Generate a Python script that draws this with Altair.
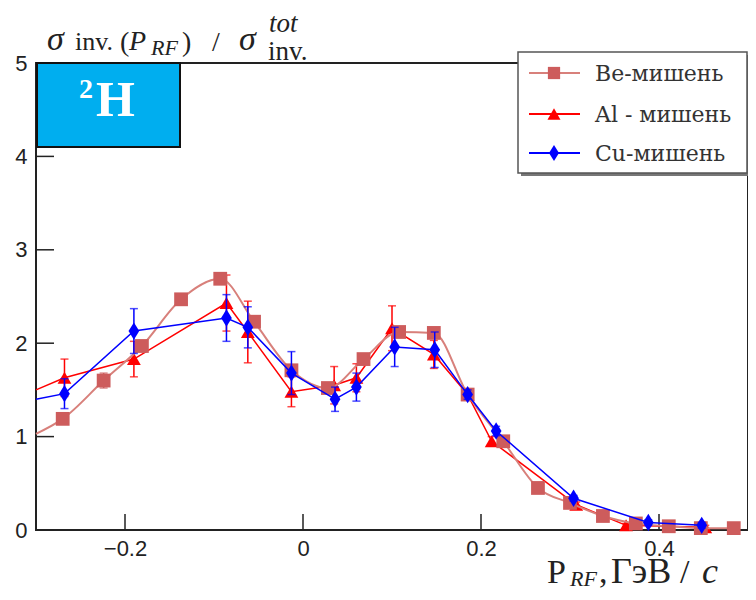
import altair as alt
import pandas as pd

# ---------------- data ----------------
x_ticks = [-0.2, 0.0, 0.2, 0.4]
y_ticks = [0, 1, 2, 3, 4, 5]

be_x = [-0.270, -0.224, -0.181, -0.137, -0.093, -0.055, -0.013, 0.028, 0.068, 0.108,
        0.147, 0.185, 0.225, 0.264, 0.300, 0.337, 0.374, 0.411, 0.447, 0.484]
be_y = [1.19, 1.60, 1.97, 2.47, 2.69, 2.23, 1.71, 1.52, 1.83, 2.12,
        2.11, 1.45, 0.95, 0.45, 0.29, 0.15, 0.07, 0.04, 0.02, 0.02]
be_err = [0.05, 0.08, 0.06, 0.05, 0.05, 0.05, 0.05, 0.05, 0.05, 0.05,
          0.05, 0.04, 0.04, 0.03, 0.02, 0.02, 0.01, 0.01, 0.01, 0.01]

al_x = [-0.268, -0.190, -0.086, -0.062, -0.013, 0.035, 0.060, 0.100, 0.147, 0.185,
        0.212, 0.307, 0.363, 0.452]
al_y = [1.63, 1.83, 2.43, 2.12, 1.48, 1.55, 1.63, 2.16, 1.88, 1.45,
        0.95, 0.27, 0.05, 0.03]
al_err = [0.20, 0.19, 0.30, 0.33, 0.16, 0.20, 0.15, 0.24, 0.15, 0.06,
          0.05, 0.03, 0.02, 0.02]

cu_x = [-0.268, -0.190, -0.086, -0.062, -0.013, 0.036, 0.060, 0.103, 0.148, 0.185,
        0.217, 0.304, 0.388, 0.448]
cu_y = [1.46, 2.13, 2.27, 2.17, 1.68, 1.40, 1.53, 1.96, 1.93, 1.45,
        1.06, 0.34, 0.08, 0.05]
cu_err = [0.16, 0.24, 0.25, 0.22, 0.23, 0.13, 0.15, 0.21, 0.19, 0.05,
          0.05, 0.03, 0.03, 0.03]

# value of each curve where it leaves the left edge of the frame
edge_x = -0.3
be_edge, al_edge, cu_edge = 1.03, 1.50, 1.40

legend_labels = ["Be-мишень", "Al - мишень", "Cu-мишень"]

# ---------------- styling ----------------
W, H = 712, 467
OX, OY = 36, 63          # page position of the plot origin
R = OX + W               # page x of the right frame edge
BE_C, BE_LINE = "#cd5c5c", "#d8807b"
AL_C, CU_C = "#ff0000", "#0000ff"
SERIF = "Liberation Serif"
LSERIF = "DejaVu Serif"
DIAMOND = "M0,-1L0.62,0L0,1L-0.62,0Z"

xs = alt.Scale(domain=[-0.3, 0.5], nice=False, zero=False)
ys = alt.Scale(domain=[0, 5], nice=False, zero=False)

one = pd.DataFrame({"k": [0]})


def sdf(xv, yv, ev):
    d = pd.DataFrame({"x": xv, "y": yv, "e": ev})
    d["lo"] = d["y"] - d["e"]
    d["hi"] = d["y"] + d["e"]
    return d


def ldf(xv, yv, edge):
    return pd.DataFrame({"x": [edge_x] + list(xv), "y": [edge] + list(yv)})


def series(xv, yv, ev, edge, color, lcolor, shape, size, lw, interp):
    d = sdf(xv, yv, ev)
    X = alt.X("x:Q", scale=xs)
    line = alt.Chart(ldf(xv, yv, edge)).mark_line(
        color=lcolor, strokeWidth=lw, interpolate=interp).encode(
        x=X, y=alt.Y("y:Q", scale=ys))
    bars = alt.Chart(d).mark_rule(color=color, strokeWidth=1.5).encode(
        x=X, y=alt.Y("lo:Q", scale=ys), y2="hi:Q")
    cap_lo = alt.Chart(d).mark_tick(color=color, orient="horizontal", size=8, thickness=1.5).encode(
        x=X, y=alt.Y("lo:Q", scale=ys))
    cap_hi = alt.Chart(d).mark_tick(color=color, orient="horizontal", size=8, thickness=1.5).encode(
        x=X, y=alt.Y("hi:Q", scale=ys))
    pts = alt.Chart(d).mark_point(shape=shape, filled=True, fill=color, size=size, opacity=1,
                                  strokeWidth=0).encode(x=X, y=alt.Y("y:Q", scale=ys))
    return [line, bars, cap_lo, cap_hi, pts]


def txt(s, px, py, size, font=SERIF, style="normal", weight="normal", color="#222",
        align="left", baseline="alphabetic"):
    return alt.Chart(one).mark_text(
        text=s, font=font, fontSize=size, fontStyle=style, fontWeight=weight,
        color=color, align=align, baseline=baseline).encode(
        x=alt.value(px - OX), y=alt.value(py - OY))


def rect(x1, y1, x2, y2, fill, stroke=None, sw=0):
    kw = dict(fill=fill)
    if stroke:
        kw.update(stroke=stroke, strokeWidth=sw)
    return alt.Chart(one).mark_rect(**kw).encode(
        x=alt.value(x1 - OX), x2=alt.value(x2 - OX),
        y=alt.value(y1 - OY), y2=alt.value(y2 - OY))


# axes (labels only) + inward ticks
base = alt.Chart(pd.DataFrame({"x": x_ticks})).mark_rule(color="#222", strokeWidth=1.5).encode(
    x=alt.X("x:Q", scale=xs, axis=alt.Axis(
        values=x_ticks, labelExpr="datum.value == 0 ? '0' : format(datum.value, '.1f')",
        labelPadding=8, title=None)),
    y=alt.value(H), y2=alt.value(H - 16))

yt = alt.Chart(pd.DataFrame({"y": y_ticks})).mark_rule(color="#222", strokeWidth=1.5).encode(
    y=alt.Y("y:Q", scale=ys, axis=alt.Axis(values=y_ticks, format="d", labelPadding=9, title=None)),
    x=alt.value(0), x2=alt.value(18))

layers = [base, yt]
layers += series(al_x, al_y, al_err, al_edge, AL_C, AL_C, "triangle-up", 190, 1.5, "linear")
layers += series(be_x, be_y, be_err, be_edge, BE_C, BE_LINE, "square", 190, 2, "monotone")
layers += series(cu_x, cu_y, cu_err, cu_edge, CU_C, CU_C, DIAMOND, 300, 1.5, "linear")

# nucleus label box
layers.append(rect(37, 63, 180, 147, "#00aeef", "#111", 2))
layers.append(txt("2", 79, 98, 28, weight="bold", color="white"))
layers.append(txt("H", 96, 116, 50, weight="bold", color="white"))

# legend
layers.append(rect(521, 55, R, 176, "#777"))
layers.append(rect(518, 52, R - 1, 173, "white", "#555", 1.5))
leg_y = [73, 114, 153]
leg_c = [BE_C, AL_C, CU_C]
leg_lc = [BE_LINE, AL_C, CU_C]
leg_s = ["square", "triangle-up", DIAMOND]
leg_size = [150, 170, 260]
for lab, ly, c, lc, sh, sz in zip(legend_labels, leg_y, leg_c, leg_lc, leg_s, leg_size):
    layers.append(alt.Chart(one).mark_rule(color=lc, strokeWidth=2).encode(
        x=alt.value(529 - OX), x2=alt.value(580 - OX), y=alt.value(ly - OY)))
    layers.append(alt.Chart(one).mark_point(shape=sh, filled=True, fill=c, size=sz,
                                            opacity=1, strokeWidth=0).encode(
        x=alt.value(554 - OX), y=alt.value(ly - OY)))
    layers.append(txt(lab, 595, ly + 1, 22, font=LSERIF, color="#333", baseline="middle"))

# y title (top left)
layers += [
    txt("σ", 47, 50, 34, style="italic"),
    txt("inv.", 75, 50, 26),
    txt("(", 120, 51, 28),
    txt("P", 129, 50, 28, style="italic"),
    txt("RF", 151, 55, 22, style="italic"),
    txt(")", 182, 51, 28),
    txt("/", 212, 51, 28),
    txt("σ", 239, 50, 34, style="italic"),
    txt("tot", 269, 32, 27, style="italic"),
    txt("inv.", 268, 60, 27),
]
# x title (bottom right)
layers += [
    txt("P", 547, 583, 34),
    txt("RF", 570, 586, 22, style="italic"),
    txt(",", 599, 583, 34),
    txt("ГэВ", 611, 583, 36),
    txt("/", 680, 583, 34),
    txt("c", 702, 583, 36, style="italic"),
]

chart = alt.layer(*layers).properties(
    width=W, height=H,
    autosize=alt.AutoSizeParams(type="none"),
    padding={"left": OX - 8, "top": OY - 8, "right": 0, "bottom": 62},
).configure_view(stroke="#222", strokeWidth=2).configure_axis(
    domain=False, ticks=False, grid=False,
    labelFont="Liberation Sans", labelFontSize=22, labelColor="#222",
)

chart.save("out.html", embed_options={"renderer": "svg", "actions": False})
